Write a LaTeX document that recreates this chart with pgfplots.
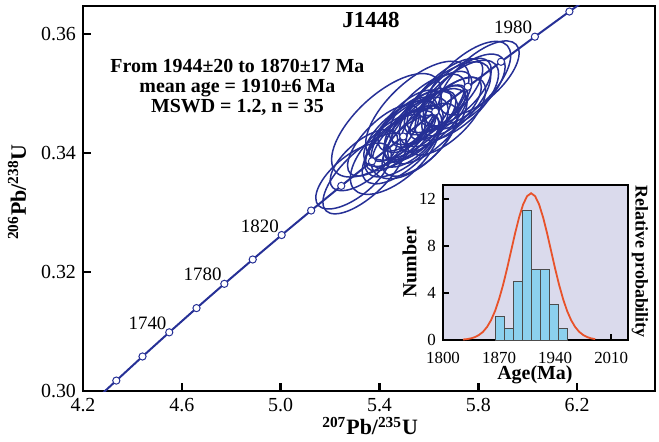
\documentclass[border=0pt]{standalone}
\usepackage{pgfplots}
\pgfplotsset{compat=1.18}
\usepackage{fontspec}
\setmainfont{Liberation Serif}

\definecolor{conc}{RGB}{38,48,150}
\definecolor{lav}{RGB}{218,218,236}
\definecolor{barblue}{RGB}{140,208,238}
\definecolor{gauss}{RGB}{232,82,42}

% error ellipse as a plot mark: conjugate semi-diameters (sx,ay) and (0,by) in data units
\pgfdeclareplotmark{errell}{%
  \pgfpathellipse{\pgfpointorigin}%
    {\pgfplotspointaxisdirectionxy{\ellsx}{\ellay}}%
    {\pgfplotspointaxisdirectionxy{0}{\ellby}}%
  \pgfusepathqstroke}

\begin{document}
\begin{tikzpicture}
\begin{axis}[
  name=main, at={(0,0)}, anchor=south west,
  scale only axis, width=286bp, height=192.5bp,
  xmin=4.2, xmax=6.515, ymin=0.30, ymax=0.3647,
  axis line style={line width=1.35bp},
  xtick={4.2,4.6,5.0,5.4,5.8,6.2}, ytick={0.30,0.32,0.34,0.36},
  tick align=inside, xtick pos=bottom, ytick pos=left,
  major tick length=4bp,
  tick style={line width=1.3bp, black},
  ticklabel style={font=\fontsize{10}{12}\selectfont},
  xticklabel style={/pgf/number format/.cd, fixed, fixed zerofill, precision=1, assume math mode=true},
  yticklabel style={/pgf/number format/.cd, fixed, fixed zerofill, precision=2, assume math mode=true},
  xlabel={\bfseries\textsuperscript{207}Pb/\textsuperscript{235}U},
  ylabel={\bfseries\textsuperscript{206}Pb/\textsuperscript{238}U},
  xlabel style={at={(axis description cs:0.502,-0.091)}, anchor=center, font=\fontsize{11}{13}\selectfont},
  ylabel style={at={(axis description cs:-0.1154,0.517)}, anchor=center, font=\fontsize{11}{13}\selectfont},
]
% error ellipses
\addplot[scatter, only marks, mark=errell,
  scatter/use mapped color={draw=conc, fill=none},
  mark options={line width=0.75bp},
  visualization depends on={value \thisrow{sx}\as\ellsx},
  visualization depends on={value \thisrow{ay}\as\ellay},
  visualization depends on={value \thisrow{by}\as\ellby},
] table {
x      y       sx     ay      by
5.2949 0.33613 0.1528 0.00368 0.00415
5.3398 0.33655 0.1688 0.00482 0.00477
5.3371 0.33880 0.1367 0.00341 0.00385
5.4629 0.34009 0.1809 0.00433 0.00556
5.4155 0.34211 0.1447 0.00426 0.00421
5.4645 0.34173 0.1206 0.00315 0.00354
5.4908 0.34114 0.1608 0.00420 0.00473
5.4272 0.34465 0.2211 0.00577 0.00651
5.4999 0.34256 0.1286 0.00369 0.00365
5.4812 0.34327 0.1447 0.00368 0.00415
5.5277 0.34198 0.1126 0.00289 0.00326
5.5091 0.34269 0.1688 0.00446 0.00503
5.4956 0.34400 0.1367 0.00384 0.00380
5.5371 0.34331 0.1206 0.00289 0.00371
5.5635 0.34222 0.1528 0.00407 0.00459
5.5250 0.34442 0.1045 0.00289 0.00326
5.5414 0.34303 0.1769 0.00416 0.00608
5.5229 0.34544 0.1286 0.00341 0.00385
5.5644 0.34465 0.1447 0.00412 0.00407
5.5938 0.34448 0.1608 0.00420 0.00473
5.5703 0.34589 0.1206 0.00328 0.00370
5.5532 0.34711 0.2090 0.00551 0.00622
5.6211 0.34583 0.1367 0.00398 0.00394
5.5926 0.34734 0.1528 0.00393 0.00443
5.6355 0.34675 0.1126 0.00302 0.00341
5.6687 0.34617 0.1608 0.00433 0.00488
5.6369 0.34839 0.1367 0.00354 0.00399
5.6650 0.34820 0.1849 0.00472 0.00532
5.6916 0.34781 0.1206 0.00328 0.00370
5.6648 0.34963 0.1528 0.00441 0.00436
5.7130 0.34885 0.1688 0.00446 0.00503
5.7078 0.35018 0.1447 0.00380 0.00429
5.7475 0.35030 0.1608 0.00420 0.00473
5.7540 0.35164 0.1769 0.00472 0.00532
5.8043 0.35260 0.1608 0.00420 0.00460
};
% concordia
\addplot[conc, line width=1bp, mark=none] coordinates {
  (4.2825,0.29974) (4.3348,0.30175) (4.4409,0.30580) (4.5491,0.30986)
  (4.6595,0.31393) (4.7721,0.31801) (4.8869,0.32210) (5.0040,0.32621)
  (5.1234,0.33033) (5.2452,0.33447) (5.3695,0.33861) (5.4962,0.34277)
  (5.6255,0.34695) (5.7573,0.35113) (5.8917,0.35533) (6.0289,0.35954)
  (6.1685,0.36377) (6.2395,0.36589)
};
\addplot[only marks, mark=*, mark size=1.8bp,
  mark options={fill=white, draw=conc, line width=0.5bp}] coordinates {
  (4.3348,0.30175) (4.4409,0.30580) (4.5491,0.30986)
  (4.6595,0.31393) (4.7721,0.31801) (4.8869,0.32210) (5.0040,0.32621)
  (5.1234,0.33033) (5.2452,0.33447) (5.3695,0.33861) (5.4962,0.34277)
  (5.6255,0.34695) (5.7573,0.35113) (5.8917,0.35533) (6.0289,0.35954)
  (6.1685,0.36377)
};
% age labels on concordia
\addplot[draw=none, mark=none, nodes near coords, point meta=explicit symbolic,
  nodes near coords style={anchor=south east, inner sep=1.2bp, text=black,
    font=\fontsize{9.5}{11}\selectfont}] coordinates {
  (4.5491,0.30986)[1740] (4.7721,0.31801)[1780] (5.0040,0.32621)[1820]
  (6.0289,0.35954)[1980]
};
\node[font=\fontsize{11.5}{13}\selectfont\bfseries] at (rel axis cs:0.5035,0.9636) {J1448};
\node[font=\fontsize{10}{10}\selectfont\bfseries, align=center] at (rel axis cs:0.27,0.788)
  {From 1944±20 to 1870±17 Ma\\mean age = 1910±6 Ma\\MSWD = 1.2, n = 35};
\end{axis}

\begin{axis}[
  name=inset, at={(180bp,25.5bp)}, anchor=south west,
  scale only axis, width=92.5bp, height=77.5bp,
  xmin=1800, xmax=2031, ymin=0, ymax=13.2,
  clip=false,
  axis background/.style={fill=lav},
  axis line style={line width=0.9bp},
  xtick={1800,1870,1940,2010}, ytick={0,4,8,12},
  tick align=inside, xtick pos=bottom, ytick pos=left,
  major tick length=3bp,
  tick style={line width=0.8bp, black},
  ticklabel style={font=\fontsize{8.5}{10}\selectfont},
  xticklabel style={yshift=-2.5bp, /pgf/number format/.cd, set thousands separator={}, assume math mode=true},
  yticklabel style={/pgf/number format/assume math mode=true},
  xlabel={\bfseries Age(Ma)}, ylabel={\bfseries Number},
  xlabel style={at={(axis description cs:0.497,-0.225)}, anchor=center, font=\fontsize{10}{12}\selectfont},
  ylabel style={at={(axis description cs:-0.181,0.5)}, anchor=center, font=\fontsize{10}{12}\selectfont},
]
\addplot[ybar interval, fill=barblue, draw=black!70, line width=0.4bp] coordinates {
  (1865,2) (1876.25,1) (1887.5,5) (1898.75,11) (1910,6) (1921.25,6)
  (1932.5,3) (1943.75,1) (1955,1)
};
\addplot[gauss, line width=0.9bp, mark=none] coordinates {
  (1825,0.04) (1830,0.075) (1835,0.14) (1840,0.25) (1845,0.43) (1850,0.70)
  (1855,1.11) (1860,1.69) (1865,2.47) (1870,3.48) (1875,4.69) (1880,6.08)
  (1885,7.58) (1890,9.08) (1895,10.44) (1900,11.54) (1905,12.25) (1910,12.5)
  (1915,12.25) (1920,11.54) (1925,10.44) (1930,9.08) (1935,7.58) (1940,6.08)
  (1945,4.69) (1950,3.48) (1955,2.47) (1960,1.69) (1965,1.11) (1970,0.70)
  (1975,0.43) (1980,0.25) (1985,0.14) (1990,0.075)
};
\node[font=\fontsize{9}{11}\selectfont\bfseries, rotate=-90] at (rel axis cs:1.065,0.506) {Relative probability};
\end{axis}
\pgfresetboundingbox
\path[use as bounding box] (-41.5bp,-25.5bp) rectangle (288bp,195.5bp);
\end{tikzpicture}
\end{document}
